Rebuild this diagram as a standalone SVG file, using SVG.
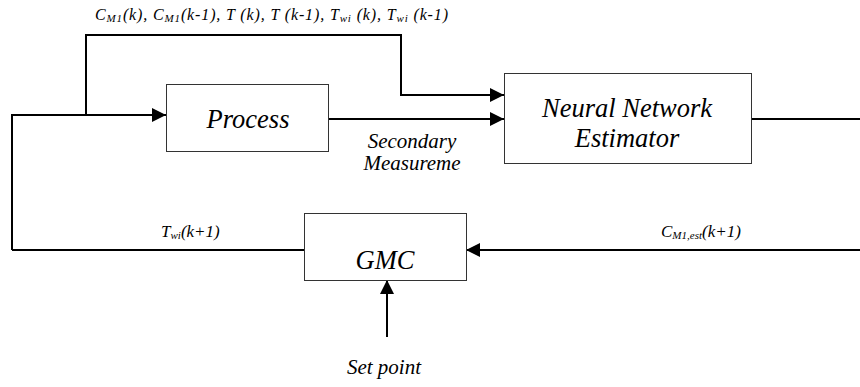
<svg xmlns="http://www.w3.org/2000/svg" width="860" height="387" viewBox="0 0 860 387">
  <style>
    .box { fill: #ffffff; stroke: #333333; stroke-width: 1; }
    .wire { fill: none; stroke: #000000; stroke-width: 2; }
    .lbl { font-style: italic; fill: #000000; }
    .big { font-size: 26.5px; }
    .mid { font-size: 21px; }
    .sm { font-size: 17px; }
    .top { font-size: 16px; }
    .sub { font-size: 11px; }
  </style>
  <defs>
    <marker id="arrow" viewBox="0 0 10 10" refX="10" refY="5" markerWidth="7" markerHeight="7" markerUnits="strokeWidth" orient="auto">
      <path d="M0,0 L10,5 L0,10 Z" fill="#000000"/>
    </marker>
  </defs>

  <rect width="860" height="387" fill="#ffffff"/>

  <g id="connectors">
    <!-- input branch to process -->
    <path class="wire" d="M12,250 L12,115 L166,115" marker-end="url(#arrow)"/>
    <!-- past values to estimator -->
    <path class="wire" d="M86,115 L86,35 L401,35 L401,95 L504,95" marker-end="url(#arrow)"/>
    <!-- secondary measurement -->
    <path class="wire" d="M328,119 L504,119" marker-end="url(#arrow)"/>
    <!-- estimator output -->
    <path class="wire" d="M751,119 L860,119"/>
    <!-- estimate fed back to controller -->
    <path class="wire" d="M860,250 L466,250" marker-end="url(#arrow)"/>
    <!-- controller output -->
    <path class="wire" d="M304,250 L12,250"/>
    <!-- set point -->
    <path class="wire" d="M387,337 L387,280" marker-end="url(#arrow)"/>
  </g>

  <g font-family="'Liberation Serif', 'Times New Roman', serif">
    <g id="process">
      <rect class="box" x="166.5" y="84.5" width="162" height="67"/>
      <text class="lbl big" x="248" y="128" text-anchor="middle">Process</text>
    </g>

    <g id="estimator">
      <rect class="box" x="504.5" y="73.5" width="247" height="90"/>
      <text class="lbl big" x="627" y="117" text-anchor="middle">Neural Network</text>
      <text class="lbl big" x="627" y="147" text-anchor="middle">Estimator</text>
    </g>

    <g id="gmc">
      <rect class="box" x="304.5" y="213.5" width="162" height="67"/>
      <text class="lbl big" x="385" y="269" text-anchor="middle">GMC</text>
    </g>

    <g id="labels">
      <text class="lbl top" x="95" y="20" textLength="353" lengthAdjust="spacing">C<tspan class="sub" dy="2">M1</tspan><tspan dy="-2">(k), C</tspan><tspan class="sub" dy="2">M1</tspan><tspan dy="-2">(k-1), T (k), T (k-1), T</tspan><tspan class="sub" dy="2">wi</tspan><tspan dy="-2"> (k), T</tspan><tspan class="sub" dy="2">wi</tspan><tspan dy="-2"> (k-1)</tspan></text>
      <text class="lbl mid" x="412" y="148" text-anchor="middle">Secondary</text>
      <text class="lbl mid" x="412" y="170" text-anchor="middle">Measureme</text>
      <text class="lbl sm" x="161" y="237">T<tspan class="sub" dy="2">wi</tspan><tspan dy="-2">(k+1)</tspan></text>
      <text class="lbl sm" x="661" y="237">C<tspan class="sub" dy="2">M1,est</tspan><tspan dy="-2">(k+1)</tspan></text>
      <text class="lbl mid" x="384" y="374" text-anchor="middle">Set point</text>
    </g>
  </g>
</svg>
